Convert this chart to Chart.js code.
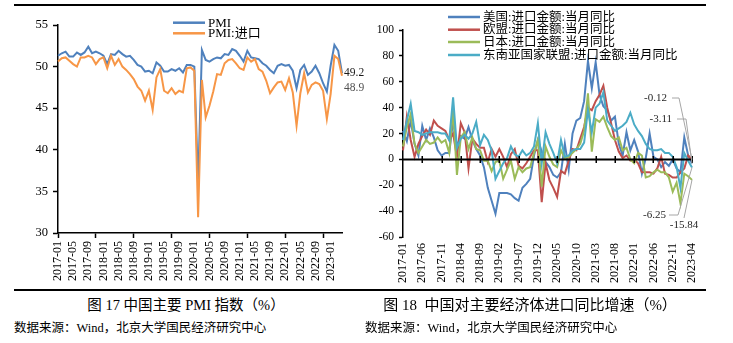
<!DOCTYPE html>
<html><head><meta charset="utf-8">
<script src="https://cdn.jsdelivr.net/npm/chart.js@4"></script>
<style>
html,body{margin:0;padding:0;background:#fff;}
body{width:733px;height:343px;position:relative;overflow:hidden;font-family:"Liberation Serif","Noto Sans CJK SC",serif;color:#000;}
.rule{position:absolute;left:14px;width:692px;height:2px;background:#000;}
canvas{position:absolute;}
.cap{position:absolute;top:296px;height:18px;line-height:18px;font-size:14.5px;text-align:center;white-space:nowrap;}
.src{position:absolute;top:320px;line-height:16px;font-size:12.5px;white-space:nowrap;}
</style></head><body>
<div class="rule" style="top:4px"></div>
<div class="rule" style="top:289px"></div>
<canvas id="c1" width="370" height="290" style="left:0;top:0"></canvas>
<canvas id="c2" width="373" height="290" style="left:360px;top:0"></canvas>
<div class="cap" style="left:0;width:372px;">图 17 中国主要 PMI 指数（%）</div>
<div class="cap" style="left:360px;width:340px;font-size:15px;">图 18&nbsp; 中国对主要经济体进口同比增速（%）</div>
<div class="src" style="left:14px;">数据来源：Wind，北京大学国民经济研究中心</div>
<div class="src" style="left:365px;">数据来源：Wind，北京大学国民经济研究中心</div>
<script>
// ---------- data ----------
const categories = [];
for (let y = 2017; y <= 2023; y++) {
  for (let m = 1; m <= 12; m++) {
    if (y === 2023 && m > 4) break;
    categories.push(y + '-' + String(m).padStart(2, '0'));
  }
}
const pmiLabels = ['PMI', 'PMI:进口'];
const pmi = [
  51.3, 51.6, 51.8, 51.2, 51.2, 51.7, 51.4, 51.7, 52.4, 51.6, 51.8, 51.6,
  51.3, 50.3, 51.5, 51.4, 51.9, 51.5, 51.2, 51.3, 50.8, 50.2, 50.0, 49.4,
  49.5, 49.2, 50.5, 50.1, 49.4, 49.4, 49.7, 49.5, 49.8, 49.3, 50.2, 50.2,
  50.0, 35.7, 52.0, 50.8, 50.6, 50.9, 51.1, 51.0, 51.5, 51.4, 52.1, 51.9,
  51.3, 50.6, 51.9, 51.1, 51.0, 50.9, 50.4, 50.1, 49.6, 49.2, 50.1, 50.3,
  50.1, 50.2, 49.5, 47.4, 49.6, 50.2, 49.0, 49.4, 50.1, 49.2, 48.0, 47.0,
  50.1, 52.6, 51.9, 49.2
];
const pmiImport = [
  50.6, 51.0, 51.1, 50.7, 50.3, 50.0, 51.1, 51.1, 51.3, 51.1, 50.3, 50.9,
  51.1, 49.8, 51.3, 50.2, 50.9, 50.0, 49.6, 49.1, 48.5, 47.6, 47.1, 45.9,
  47.1, 44.8, 48.7, 49.7, 47.1, 46.8, 47.4, 46.7, 47.1, 46.9, 49.8, 49.9,
  49.5, 31.9, 48.4, 43.9, 45.3, 47.0, 49.1, 49.0, 50.4, 50.8, 50.9, 50.4,
  49.8, 49.6, 51.1, 50.6, 50.9, 49.7, 49.4, 48.3, 46.8, 47.5, 48.1, 48.2,
  47.2, 48.6, 46.9, 42.9, 46.8, 49.2, 46.9, 47.8, 48.1, 47.9, 47.1, 43.7,
  46.7, 51.3, 50.9, 48.9
];
const pmiTicks = [30, 35, 40, 45, 50, 55];

const impLabels = ['美国:进口金额:当月同比', '欧盟:进口金额:当月同比', '日本:进口金额:当月同比', '东南亚国家联盟:进口金额:当月同比'];
const usImp = [
  22, 14, 30, 12, 3, 26, 15, 24, 17, 7, 3, 5,
  5, 30, 10, 18, 16, 25, 15, 8, 3, -6, -22, -32,
  -42, -26, -26, -26, -27, -30, -32, -22, -19, -15, 3, 15,
  6, -2, -6, -12, -14, -10, 12, -8, 20, 30, 32, 45,
  76, 55, 75, 50, 41, 38, 30, 33, 12, 3, 21, 7,
  15, 6, -11, 1, 20, 2, 0, -6, -2, -5, 0, -7,
  -10, 17, 3, -3.11
];
const euImp = [
  7, 33, 15, 2, 12, 18, 23, 19, 30, 26, 24, 22,
  15, 20, 2, 28, 21, -7, 16, 12, 9, 9, -2, 8,
  2, 8, 2, -6, 4, 8, -5, -7, -3, 2, 7, 7,
  -33, -3, -16, -22, -29, -9, -11, -1, 8, 7, 16, 25,
  40, 38, 45, 50, 57, 40, 28, 15, 6, 1, 3, -1,
  0, -3, -10, -10, -10, -11, -7, 2, -11, -12, -14, -14,
  -10, -7, 3, -0.12
];
const jpImp = [
  10, 25, 35, 12, 5, 10, 15, 12, 13, 17, 13, 15,
  5, 38, -12, 17, 21, 8, 17, 8, 7, -1, -1, -9,
  -2, -1, -15, -8, -1, -15, -6, -10, -7, -6, 5, 15,
  -21, 10, 2, -4, -6, 7, 1, 2, 5, 8, 12, 22,
  51, 6, 31, 29, 33, 25, 18, 15, 17, 7, 9, 0,
  -3, 5, 3, -14, -13, -10, -8, -10, -10, -14, -25, -18,
  -34, -11, -13, -15.84
];
const aseanImp = [
  15, 30, 43, 22, 21, 19, 20, 21, 21, 21, 20, 20,
  15, 48, 9, 16, 19, 16, 20, 29, 11, 19, 15, 7,
  -15, -9, -3, 1, 10, 4, 2, 7, 3, 5, 10, 28,
  -3, 21, 12, 5, -3, 15, 2, 3, 7, 8, 8, 13,
  38, 21, 40, 43, 52, 30, 26, 22, 24, 26, 29, 36,
  27, 22, 18, 12, 8, 7, 7, 8, 5, 5, 2, -6,
  -22, 5, -1, -6.25
];
const impTicks = [-60, -40, -20, 0, 20, 40, 60, 80, 100];

// ---------- helpers ----------
const SERIF = '"Liberation Serif", "Noto Sans CJK SC", serif';
function legendPlugin(x0, x1, tx, rows, font) {
  return {
    id: 'customLegend',
    afterDraw(chart) {
      const ctx = chart.ctx; ctx.save();
      chart.data.datasets.forEach((ds, i) => {
        ctx.strokeStyle = ds.borderColor; ctx.lineWidth = 2.5;
        ctx.beginPath(); ctx.moveTo(x0, rows[i]); ctx.lineTo(x1, rows[i]); ctx.stroke();
        ctx.fillStyle = '#000'; ctx.font = font;
        ctx.textBaseline = 'middle'; ctx.textAlign = 'left';
        ctx.fillText(ds.label, tx, rows[i] + 0.5);
      });
      ctx.restore();
    }
  };
}

// ---------- chart 1 ----------
new Chart(document.getElementById('c1'), {
  type: 'line',
  data: {
    labels: categories,
    datasets: [
      { label: pmiLabels[0], data: pmi, borderColor: '#4F81BD', borderWidth: 2, pointRadius: 0, tension: 0, order: 2 },
      { label: pmiLabels[1], data: pmiImport, borderColor: '#F79646', borderWidth: 2, pointRadius: 0, tension: 0, order: 1 }
    ]
  },
  options: {
    responsive: false, animation: false, devicePixelRatio: 1, events: [],
    layout: { padding: { left: 0, top: 25, right: 28, bottom: 0 } },
    plugins: { legend: { display: false }, tooltip: { enabled: false } },
    scales: {
      x: {
        afterFit: s => { s.height = 57; },
        border: { color: '#000', width: 1.5 },
        grid: { drawOnChartArea: false, tickLength: 5, tickWidth: 1.5,
                color: c => (c.index % 10 === 0 ? '#000' : 'rgba(0,0,0,0)') },
        ticks: { autoSkip: false, maxRotation: 90, minRotation: 90, padding: 3, color: '#000',
                 font: { family: SERIF, size: 12 },
                 callback: (v, i) => (i % 4 === 0 ? categories[i] : '') }
      },
      y: {
        min: 30, max: 55,
        afterFit: s => { s.width = 58; },
        afterBuildTicks: s => { s.ticks = pmiTicks.map(v => ({ value: v })); },
        border: { color: '#000', width: 1.5 },
        grid: { drawOnChartArea: false, tickLength: 5, color: '#000', tickWidth: 1.5 },
        ticks: { padding: 5, color: '#000', font: { family: SERIF, size: 12.5 } }
      }
    }
  },
  plugins: [
    legendPlugin(173, 205, 208, [22.7, 33.3], '13px ' + SERIF),
    {
      id: 'lastLabels',
      afterDatasetsDraw(chart) {
        const ctx = chart.ctx, xs = chart.scales.x, ys = chart.scales.y;
        const last = categories.length - 1;
        const px = xs.getPixelForValue(last);
        ctx.save();
        ctx.font = '11.5px ' + SERIF; ctx.textAlign = 'left'; ctx.textBaseline = 'middle';
        ctx.fillStyle = '#1a1a1a';
        ctx.fillText(String(pmi[last].toFixed(1)), px + 2, ys.getPixelForValue(pmi[last]));
        ctx.fillStyle = '#505050';
        ctx.fillText(String(pmiImport[last].toFixed(1)), px + 2, ys.getPixelForValue(pmiImport[last]) + 12);
        ctx.restore();
      }
    }
  ]
});

// ---------- chart 2 ----------
new Chart(document.getElementById('c2'), {
  type: 'line',
  data: {
    labels: categories,
    datasets: [
      { label: impLabels[0], data: usImp, borderColor: '#4F81BD', borderWidth: 2, pointRadius: 0, tension: 0, order: 4 },
      { label: impLabels[1], data: euImp, borderColor: '#C0504D', borderWidth: 2, pointRadius: 0, tension: 0, order: 3 },
      { label: impLabels[2], data: jpImp, borderColor: '#9BBB59', borderWidth: 2, pointRadius: 0, tension: 0, order: 2 },
      { label: impLabels[3], data: aseanImp, borderColor: '#4BACC6', borderWidth: 2, pointRadius: 0, tension: 0, order: 1 }
    ]
  },
  options: {
    responsive: false, animation: false, devicePixelRatio: 1, events: [],
    layout: { padding: { left: 0, top: 30, right: 41, bottom: 0 } },
    plugins: { legend: { display: false }, tooltip: { enabled: false } },
    scales: {
      x: {
        afterFit: s => { s.height = 53; },
        border: { display: false },
        grid: { display: false, drawTicks: false },
        ticks: { autoSkip: false, maxRotation: 90, minRotation: 90, padding: 6, color: '#000',
                 font: { family: SERIF, size: 12 },
                 callback: (v, i) => (i % 5 === 0 ? categories[i] : '') }
      },
      y: {
        min: -60, max: 100,
        afterFit: s => { s.width = 43; },
        afterBuildTicks: s => { s.ticks = impTicks.map(v => ({ value: v })); },
        border: { color: '#000', width: 1.5 },
        grid: { drawOnChartArea: false, tickLength: 4, color: '#000', tickWidth: 1.5 },
        ticks: { padding: 5, color: '#000', font: { family: SERIF, size: 11.5 } }
      }
    }
  },
  plugins: [
    {
      id: 'zeroAxis',
      afterDatasetsDraw(chart) {
        const ctx = chart.ctx, xs = chart.scales.x, ys = chart.scales.y, ca = chart.chartArea;
        const y0 = ys.getPixelForValue(0);
        ctx.save();
        ctx.strokeStyle = '#000'; ctx.lineWidth = 2;
        ctx.beginPath(); ctx.moveTo(ca.left, y0); ctx.lineTo(ca.right + 1, y0); ctx.stroke();
        ctx.lineWidth = 1.5;
        categories.forEach((c, i) => {
          if (i % 5 !== 0 || i === 0) return;
          const x = Math.round(xs.getPixelForValue(i)) + 0.25;
          ctx.beginPath(); ctx.moveTo(x, y0 - 3.5); ctx.lineTo(x, y0 + 3.5); ctx.stroke();
        });
        // end labels with leader lines
        const last = categories.length - 1;
        const px = xs.getPixelForValue(last);
        const notes = [
          { v: euImp[last], tr: px - 25, ty: ca.top + 68, h0: px - 20, h1: px - 13 },
          { v: usImp[last], tr: px - 20, ty: ca.top + 89, h0: px - 15, h1: px - 6 },
          { v: aseanImp[last], tr: px - 26, ty: ca.top + 185, h0: px - 23, h1: px - 14 }
        ];
        ctx.font = '11px ' + SERIF; ctx.textBaseline = 'middle';
        notes.forEach(n => {
          ctx.fillStyle = '#262626'; ctx.textAlign = 'right';
          ctx.fillText(n.v.toFixed(2), n.tr, n.ty);
          ctx.strokeStyle = '#A6A6A6'; ctx.lineWidth = 1;
          ctx.beginPath(); ctx.moveTo(n.h0, n.ty); ctx.lineTo(n.h1, n.ty);
          ctx.lineTo(px, ys.getPixelForValue(n.v)); ctx.stroke();
        });
        const jv = jpImp[last];
        ctx.fillStyle = '#262626'; ctx.textAlign = 'center';
        ctx.fillText(jv.toFixed(2), px - 8, ca.top + 195);
        ctx.strokeStyle = '#A6A6A6'; ctx.beginPath();
        ctx.moveTo(px - 8, ca.top + 188); ctx.lineTo(px, ys.getPixelForValue(jv)); ctx.stroke();
        ctx.restore();
      }
    },
    legendPlugin(88, 120, 123, [17, 29.7, 42, 55], '12.5px ' + SERIF)
  ]
});
</script>
</body></html>
